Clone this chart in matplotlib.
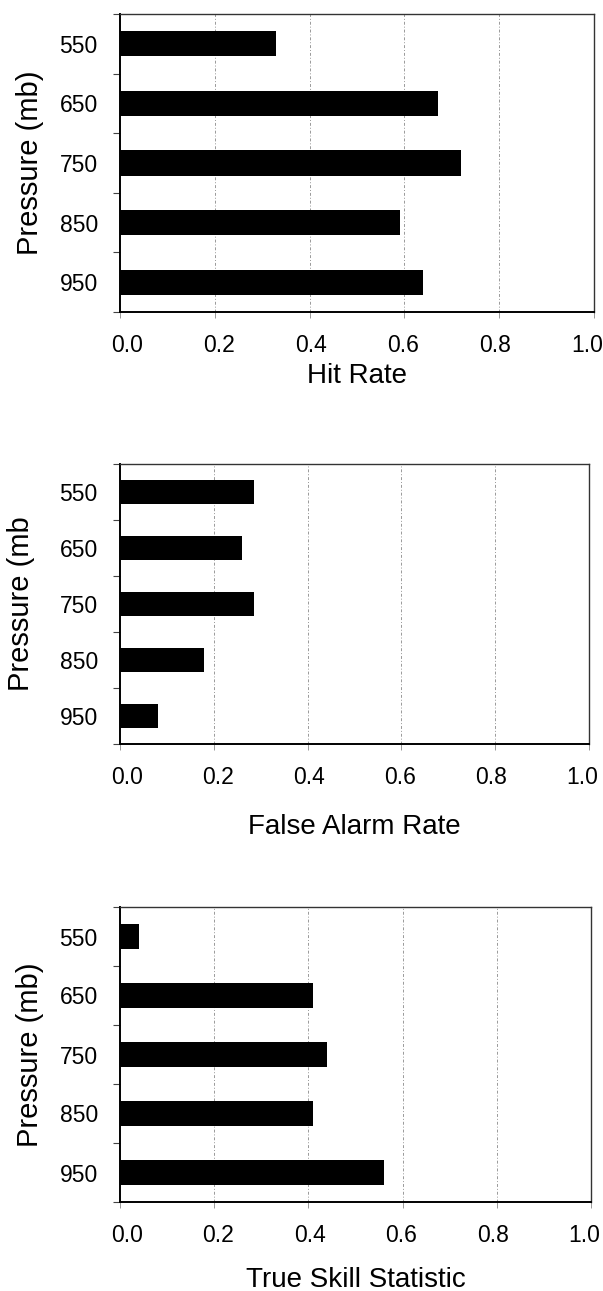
import matplotlib
matplotlib.use("Agg")
import matplotlib.pyplot as plt
import numpy as np

plt.rcParams['font.family'] = ['Liberation Sans', 'DejaVu Sans']

levels = ['550', '650', '750', '850', '950']
hit_rate = [0.33, 0.67, 0.72, 0.59, 0.64]
false_alarm = [0.285, 0.26, 0.285, 0.18, 0.08]
tss = [0.04, 0.41, 0.44, 0.41, 0.56]

xticks = [0.0, 0.2, 0.4, 0.6, 0.8, 1.0]

W, H = 603, 1291
fig = plt.figure(figsize=(W / 100, H / 100), dpi=100)

# (left, right, top, bottom) in pixels, data, xlabel, ylabel, xlabel pad, ylabel x
panels = [
    ((120, 594, 14, 312), hit_rate, 'Hit Rate', 'Pressure (mb)', 4, 28),
    ((120, 589, 464, 744), false_alarm, 'False Alarm Rate', 'Pressure (mb', 18, 19),
    ((120, 591, 907, 1202), tss, 'True Skill Statistic', 'Pressure (mb)', 14, 28),
]

for (l, r, t, b), vals, xl, yl, xpad, ylx in panels:
    ax = fig.add_axes([l / W, 1 - b / H, (r - l) / W, (b - t) / H])
    y = np.arange(len(levels))
    ax.barh(y, vals, height=0.42, color='black', zorder=3)
    ax.set_xlim(0, 1.0)
    ax.set_ylim(len(levels) - 0.5, -0.5)

    # tick marks at the grid values, labels drawn a bit inset (as in the scan)
    inset = 7.0 / (r - l)
    ax.set_xticks(xticks)
    ax.set_xticklabels([''] * len(xticks))
    ax.set_xticks([inset + v * (1 - 2 * inset) for v in xticks], minor=True)
    ax.set_xticklabels(['%.1f' % v for v in xticks], minor=True)
    ax.tick_params(axis='x', which='major', length=4, width=0.6, color='#888888')
    ax.tick_params(axis='x', which='minor', length=0, pad=16, labelsize=16.5)

    ax.set_yticks(y)
    ax.set_yticklabels(levels)
    ax.set_yticks(np.arange(len(levels) + 1) - 0.5, minor=True)
    ax.tick_params(axis='y', which='major', length=0, pad=16, labelsize=16.5)
    ax.tick_params(axis='y', which='minor', length=5, width=0.8, color='#444444')

    for v in xticks[1:-1]:
        ax.axvline(v, color='#999999', lw=0.7, ls=(0, (3, 2, 1, 2)), zorder=1)

    for s in ['left', 'bottom']:
        ax.spines[s].set_linewidth(1.4)
    for s in ['top', 'right']:
        ax.spines[s].set_linewidth(1.0)
        ax.spines[s].set_color('#333333')

    ax.set_xlabel(xl, fontsize=20, labelpad=xpad)
    ax.set_ylabel(yl, fontsize=21)
    ax.yaxis.set_label_coords((ylx + 16 - l) / (r - l), 0.5)

fig.savefig('out.png', dpi=100)
